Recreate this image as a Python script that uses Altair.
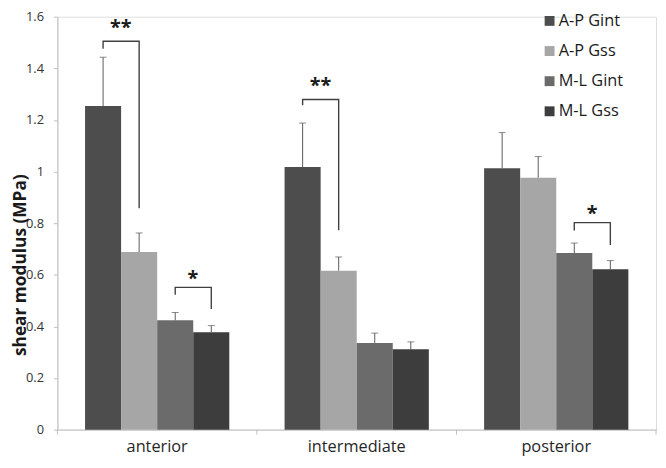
import altair as alt
import pandas as pd

categories = ["anterior", "intermediate", "posterior"]
series = ["A-P Gint", "A-P Gss", "M-L Gint", "M-L Gss"]
colors = ["#4d4d4d", "#a6a6a6", "#6b6b6b", "#3d3d3d"]

# mean values per category (order of series)
means = {
    "anterior": [1.254, 0.688, 0.424, 0.377],
    "intermediate": [1.018, 0.616, 0.336, 0.311],
    "posterior": [1.013, 0.976, 0.684, 0.621],
}
# mean + error (top of error bar)
uppers = {
    "anterior": [1.443, 0.762, 0.454, 0.403],
    "intermediate": [1.188, 0.669, 0.374, 0.340],
    "posterior": [1.151, 1.058, 0.723, 0.655],
}

# significance brackets
br_cat = ["anterior", "anterior", "intermediate", "posterior"]
br_left = ["A-P Gint", "M-L Gint", "A-P Gint", "M-L Gint"]
br_right = ["A-P Gss", "M-L Gss", "A-P Gss", "M-L Gss"]
br_lo_left = [1.476, 0.523, 1.257, 0.772]
br_top = [1.505, 0.551, 1.279, 0.802]
br_lo_right = [0.858, 0.467, 0.773, 0.715]
br_label = ["**", "*", "**", "*"]
br_label_y = [1.555, 0.582, 1.332, 0.834]

# category boundaries for x-axis ticks
boundaries = [0, 1, 2, 3]

rows = []
for c in categories:
    for i, s in enumerate(series):
        rows.append({"cat": c, "series": s, "mean": means[c][i], "upper": uppers[c][i]})
df = pd.DataFrame(rows)

brows = []
srows = []
for k in range(len(br_cat)):
    brows.append({"b": k, "o": 0, "cat": br_cat[k], "series": br_left[k], "v": br_lo_left[k]})
    brows.append({"b": k, "o": 1, "cat": br_cat[k], "series": br_left[k], "v": br_top[k]})
    brows.append({"b": k, "o": 2, "cat": br_cat[k], "series": br_right[k], "v": br_top[k]})
    brows.append({"b": k, "o": 3, "cat": br_cat[k], "series": br_right[k], "v": br_lo_right[k]})
    srows.append({"cat": br_cat[k], "series": br_left[k], "v": br_label_y[k], "t": br_label[k]})
bdf = pd.DataFrame(brows)
sdf = pd.DataFrame(srows)
tdf = pd.DataFrame({"pos": boundaries})

FONT = "Open Sans"
H = 418

xenc = alt.X(
    "cat:N",
    sort=categories,
    scale=alt.Scale(domain=categories, paddingInner=0.277, paddingOuter=0.1386),
    axis=alt.Axis(
        title=None,
        labelAngle=0,
        labelFontSize=16.5,
        labelColor="#262626",
        labelFont=FONT,
        labelPadding=9,
        ticks=False,
        domainColor="#bfbfbf",
    ),
)
xoff = alt.XOffset(
    "series:N",
    sort=series,
    scale=alt.Scale(domain=series, paddingInner=0, paddingOuter=0),
)
yscale = alt.Scale(domain=[0, 1.6], nice=False)
yenc = alt.Y(
    "mean:Q",
    scale=yscale,
    axis=alt.Axis(
        title="shear modulus (MPa)",
        values=[0, 0.2, 0.4, 0.6, 0.8, 1.0, 1.2, 1.4, 1.6],
        format=".1~f",
        grid=False,
        labelFontSize=13,
        labelColor="#333333",
        labelFont=FONT,
        labelPadding=10,
        tickSize=4,
        tickColor="#bfbfbf",
        domainColor="#bfbfbf",
        titleFontSize=17.5,
        titleFont=FONT,
        titleFontWeight="bold",
        titleColor="#1a1a1a",
        titleX=-28,
        titleY=251,
    ),
)

bars = alt.Chart(df).mark_bar(size=36.5).encode(
    x=xenc,
    xOffset=xoff,
    y=yenc,
    color=alt.Color(
        "series:N",
        sort=series,
        scale=alt.Scale(domain=series, range=colors),
        legend=alt.Legend(
            title=None,
            orient="none",
            legendX=490,
            legendY=-4,
            symbolType="square",
            symbolSize=100,
            symbolStrokeWidth=0,
            labelFontSize=16.5,
            labelFont=FONT,
            labelColor="#1a1a1a",
            rowPadding=13.5,
            labelOffset=1,
        ),
    ),
)

stems = alt.Chart(df).mark_rule(color="#595959", strokeWidth=1).encode(
    x=alt.X("cat:N", sort=categories),
    xOffset=xoff,
    y=alt.Y("mean:Q", scale=yscale),
    y2="upper:Q",
)
caps = alt.Chart(df).mark_tick(color="#595959", size=7, thickness=1).encode(
    x=alt.X("cat:N", sort=categories),
    xOffset=xoff,
    y=alt.Y("upper:Q", scale=yscale),
)

brackets = alt.Chart(bdf).mark_line(color="#404040", strokeWidth=1.4).encode(
    x=alt.X("cat:N", sort=categories),
    xOffset=xoff,
    y=alt.Y("v:Q", scale=yscale),
    detail="b:N",
    order="o:Q",
)

stars = alt.Chart(sdf).mark_text(
    dx=18, fontSize=20, fontWeight="bold", font=FONT, color="#1a1a1a", baseline="middle"
).encode(
    x=alt.X("cat:N", sort=categories),
    xOffset=xoff,
    y=alt.Y("v:Q", scale=yscale),
    text="t:N",
)

band_layer = alt.layer(bars, stems, caps, brackets, stars)

ticks = alt.Chart(tdf).mark_rule(color="#bfbfbf", strokeWidth=1).encode(
    x=alt.X("pos:Q", scale=alt.Scale(domain=[0, 3], nice=False, zero=False), axis=None),
    y=alt.value(H),
    y2=alt.value(H + 5),
)

chart = (
    alt.layer(band_layer, ticks)
    .resolve_scale(x="independent")
    .properties(
        width=606,
        height=H,
        autosize=alt.AutoSizeParams(type="none"),
        padding={"left": 50, "top": 6, "right": 2, "bottom": 34},
    )
    .configure_view(stroke=None)
    .configure(background="white")
)

chart.save("out.html", embed_options={"renderer": "svg", "actions": False})
